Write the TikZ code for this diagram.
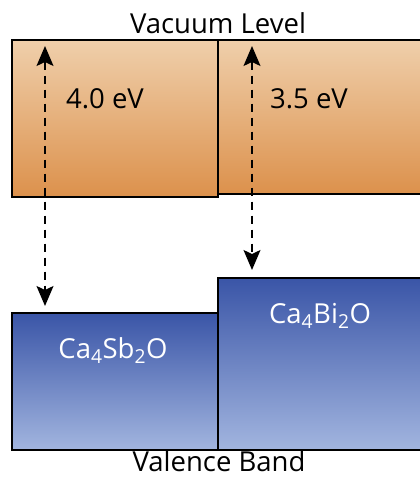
\documentclass[tikz,border=0pt]{standalone}
\usepackage{fontspec}
\setmainfont{Open Sans}
\usetikzlibrary{arrows.meta}
\definecolor{vactop}{HTML}{EFCFAB}
\definecolor{vacbot}{HTML}{DC914C}
\definecolor{valtop}{HTML}{3A55A7}
\definecolor{valbot}{HTML}{A2B5DF}
\tikzset{
  band/.style={draw=black,line width=1.8pt,anchor=north west,inner sep=0pt,minimum width=206pt},
  vacband/.style={band,top color=vactop,bottom color=vacbot},
  valband/.style={band,top color=valtop,middle color=valtop!55!valbot,bottom color=valbot},
  gap/.style={dashed,dash pattern=on 8pt off 6pt,line width=1.6pt,{Stealth[length=20pt,width=17pt,inset=4pt]}-{Stealth[length=20pt,width=17pt,inset=4pt]}},
  lbl/.style={anchor=base,inner sep=0pt,font=\fontsize{27.5}{32}\selectfont}
}
\begin{document}
\begin{tikzpicture}[x=1pt,y=-1pt]
\useasboundingbox (0,0) rectangle (420,477);
\node[vacband,minimum height=157pt](vacSb) at (11,39){};
\node[vacband,minimum height=154pt](vacBi) at (217,39){};
\node[valband,minimum height=137pt](valSb) at (11,312){};
\node[valband,minimum height=172pt](valBi) at (217,277){};
\coordinate(upSb) at (45,46);
\coordinate(dnSb) at (45,306);
\coordinate(upBi) at (252,46);
\coordinate(dnBi) at (252,270);
\draw[gap](upSb)--(dnSb);
\draw[gap](upBi)--(dnBi);
\node[lbl](vac) at (218,33){Vacuum Level};
\node[lbl](val) at (219,471){Valence Band};
\node[lbl](eSb) at (105,108){4.0 eV};
\node[lbl](eBi) at (309,108){3.5 eV};
\node[lbl,text=white](nSb) at (113,358){Ca\textsubscript{4}Sb\textsubscript{2}O};
\node[lbl,text=white](nBi) at (320,323){Ca\textsubscript{4}Bi\textsubscript{2}O};
\end{tikzpicture}
\end{document}
